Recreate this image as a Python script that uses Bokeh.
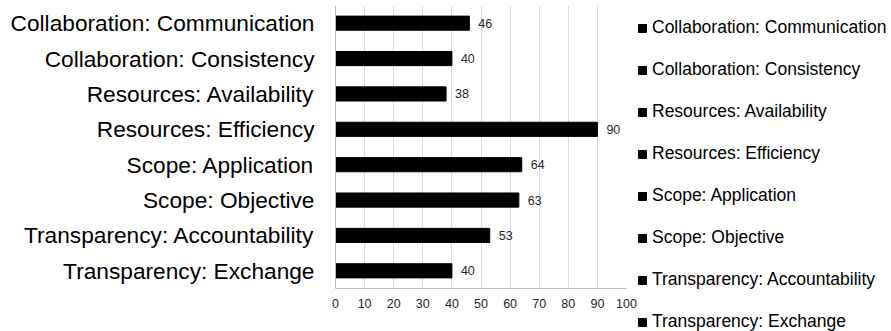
from bokeh.plotting import figure
from bokeh.layouts import row
from bokeh.core.properties import value
from bokeh.models import (ColumnDataSource, FactorRange, Range1d, Legend, LegendItem,
                          SingleIntervalTicker, LabelSet)
from bokeh.embed import file_html
from bokeh.resources import INLINE

categories = [
    "Collaboration: Communication",
    "Collaboration: Consistency",
    "Resources: Availability",
    "Resources: Efficiency",
    "Scope: Application",
    "Scope: Objective",
    "Transparency: Accountability",
    "Transparency: Exchange",
]
values = [46, 40, 38, 90, 64, 63, 53, 40]
x_ticks_interval = 10
x_max = 100

FONT = "Liberation Sans"

src = ColumnDataSource(dict(cat=categories, val=values, lbl=[str(v) for v in values]))

p = figure(width=637, height=331, output_backend="svg", toolbar_location=None,
           y_range=FactorRange(factors=list(reversed(categories))),
           x_range=Range1d(0, x_max),
           min_border_left=335, min_border_right=11, min_border_top=5, min_border_bottom=43)
p.outline_line_color = None
p.background_fill_color = "white"

r = p.hbar(y="cat", right="val", left=0, height=0.4, source=src,
           fill_color="black", line_color="black")

labels = LabelSet(x="val", y="cat", text="lbl", source=src, x_offset=9,
                  text_baseline="middle", text_font_size=value("12.5px"),
                  text_font=value(FONT), text_color=value("#262626"))
p.add_layout(labels)

p.xaxis.ticker = SingleIntervalTicker(interval=x_ticks_interval)
p.xaxis.major_tick_line_color = None
p.xaxis.minor_tick_line_color = None
p.xaxis.axis_line_color = "#bfbfbf"
p.xaxis.major_label_text_font = FONT
p.xaxis.major_label_text_font_size = "12.5px"
p.xaxis.major_label_text_color = "#262626"
p.xaxis.major_label_standoff = 4

p.yaxis.major_tick_line_color = None
p.yaxis.minor_tick_line_color = None
p.yaxis.axis_line_color = "#bfbfbf"
p.yaxis.major_label_text_font = FONT
p.yaxis.major_label_text_font_size = "22.7px"
p.yaxis.major_label_text_color = "black"
p.yaxis.major_label_standoff = 15

p.xgrid.grid_line_color = "#d9d9d9"
p.ygrid.grid_line_color = None

# Legend lives in a side panel of its own narrow figure to the right
lf = figure(width=254, height=331, output_backend="svg", toolbar_location=None,
            y_range=FactorRange(factors=list(reversed(categories))),
            x_range=Range1d(0, x_max), min_border=0,
            x_axis_location=None, y_axis_location=None)
lf.outline_line_color = None
lf.xgrid.grid_line_color = None
lf.ygrid.grid_line_color = None
lr = lf.hbar(y="cat", right="val", left=0, height=0.4, source=src,
             fill_color="black", line_color="black", visible=False)

items = [LegendItem(label=c, renderers=[lr], index=i) for i, c in enumerate(categories)]
legend = Legend(items=items, location=(0, -44), orientation="vertical",
                glyph_width=10, glyph_height=10, label_height=20, spacing=21,
                label_standoff=5, padding=0, margin=0,
                label_text_font=FONT, label_text_font_size="17.5px",
                label_text_color="black", label_text_baseline="middle",
                border_line_color=None, background_fill_alpha=0,
                inactive_fill_alpha=0)
lf.add_layout(legend, "left")

layout = row(p, lf, spacing=0)
open("out.html", "w").write(file_html(layout, INLINE))
